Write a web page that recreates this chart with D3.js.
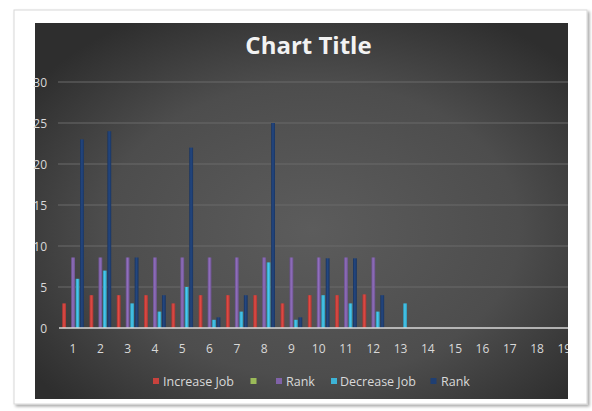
<!DOCTYPE html>
<html>
<head>
<meta charset="utf-8">
<script src="https://cdn.jsdelivr.net/npm/d3@7"></script>
<style>
  html, body { margin: 0; padding: 0; background: #ffffff; }
  svg { display: block; }
  text { font-family: "Open Sans", "Liberation Sans", sans-serif; }
</style>
</head>
<body>
<div id="chart"></div>
<script>
// ---- data ----
const categories = ["1","2","3","4","5","6","7","8","9","10","11","12","13","14","15","16","17","18","19"];
const seriesNames = ["Increase Job", "", "Rank", "Decrease Job", "Rank"];
const increaseJob = [3, 4, 4, 4, 3, 4, 4, 4, 3, 4, 4, 4.1, null, null, null, null, null, null, null];
const blankSeries = [null, null, null, null, null, null, null, null, null, null, null, null, null, null, null, null, null, null, null];
const rank1 = [8.6, 8.6, 8.6, 8.6, 8.6, 8.6, 8.6, 8.6, 8.6, 8.6, 8.6, 8.6, null, null, null, null, null, null, null];
const decreaseJob = [6, 7, 3, 2, 5, 1, 2, 8, 1, 4, 3, 2, 3, null, null, null, null, null, null];
const rank2 = [23, 24, 8.6, 4, 22, 1.3, 4, 25, 1.3, 8.5, 8.5, 4, null, null, null, null, null, null, null];
const yTicks = [0, 5, 10, 15, 20, 25, 30];
const seriesValues = [increaseJob, blankSeries, rank1, decreaseJob, rank2];
const seriesColors = ["#c8423d", "#9bbb59", "#8062a8", "#3db3d6", "#1f3f73"];

const W = 592, H = 411;
const svg = d3.select("#chart").append("svg").attr("width", W).attr("height", H);
const defs = svg.append("defs");

// frame card
const shadow = defs.append("filter").attr("id", "shadow").attr("x", "-5%").attr("y", "-5%").attr("width", "110%").attr("height", "110%");
shadow.append("feDropShadow").attr("dx", 2).attr("dy", 2).attr("stdDeviation", 1.5).attr("flood-color", "#000").attr("flood-opacity", 0.35);
svg.append("rect").attr("x", 14).attr("y", 10).attr("width", 573).attr("height", 394)
  .attr("fill", "#ffffff").attr("stroke", "#d8d8d8").attr("stroke-width", 1).attr("filter", "url(#shadow)");

// dark chart area
const bg = defs.append("radialGradient").attr("id", "bgGrad").attr("cx", "52%").attr("cy", "55%").attr("r", "65%");
bg.append("stop").attr("offset", "0%").attr("stop-color", "#5c5c5c");
bg.append("stop").attr("offset", "60%").attr("stop-color", "#4d4d4d");
bg.append("stop").attr("offset", "100%").attr("stop-color", "#2e2e2e");
const area = { x: 35, y: 23, w: 533, h: 376 };
svg.append("rect").attr("x", area.x).attr("y", area.y).attr("width", area.w).attr("height", area.h).attr("fill", "url(#bgGrad)");

defs.append("clipPath").attr("id", "areaClip").append("rect")
  .attr("x", area.x).attr("y", area.y).attr("width", area.w).attr("height", area.h);

// title
svg.append("text").attr("x", 308.5).attr("y", 53.5).attr("text-anchor", "middle")
  .attr("fill", "#f2f2f2").attr("font-size", 24).attr("font-weight", "bold")
  .attr("font-family", "Lato, 'Open Sans', sans-serif")
  .text("Chart Title");

// scales
const x0 = d3.scaleBand().domain(categories).range([59.4, 578]).paddingInner(0.18).paddingOuter(0.09);
const x1 = d3.scaleBand().domain(d3.range(seriesNames.length)).range([0, x0.bandwidth()]).padding(0);
const y = d3.scaleLinear().domain([0, 30]).range([328, 82]);

const plot = svg.append("g").attr("clip-path", "url(#areaClip)");

// gridlines
plot.append("g").selectAll("line").data(yTicks.filter(d => d > 0)).join("line")
  .attr("x1", 58).attr("x2", 578)
  .attr("y1", d => y(d)).attr("y2", d => y(d))
  .attr("stroke", "#6a6a6a").attr("stroke-width", 1);

// y labels
svg.append("g").selectAll("text").data(yTicks).join("text")
  .attr("x", 47).attr("y", d => y(d) + 4.5).attr("text-anchor", "end")
  .attr("fill", "#d9d9d9").attr("font-size", 12)
  .text(d => d);

// bar gradients
seriesColors.forEach((c, i) => {
  const g = defs.append("linearGradient").attr("id", "bar" + i).attr("x1", "0%").attr("x2", "100%");
  const col = d3.color(c);
  g.append("stop").attr("offset", "0%").attr("stop-color", col.darker(0.6));
  g.append("stop").attr("offset", "45%").attr("stop-color", col.brighter(0.35));
  g.append("stop").attr("offset", "100%").attr("stop-color", col.darker(0.5));
});

// bars
const barData = [];
seriesValues.forEach((vals, si) => {
  vals.forEach((v, ci) => {
    if (v != null) barData.push({ cat: categories[ci], s: si, v: v });
  });
});
plot.append("g").selectAll("rect").data(barData).join("rect")
  .attr("x", d => x0(d.cat) + x1(d.s) + 0.3)
  .attr("width", x1.bandwidth() - 0.6)
  .attr("y", d => y(d.v))
  .attr("height", d => y(0) - y(d.v))
  .attr("fill", d => `url(#bar${d.s})`);

// x axis line
plot.append("line").attr("x1", 59).attr("x2", 578).attr("y1", y(0)).attr("y2", y(0))
  .attr("stroke", "#d9d9d9").attr("stroke-width", 1.5);

// x labels
plot.append("g").selectAll("text").data(categories).join("text")
  .attr("x", d => x0(d) + x0.bandwidth() / 2).attr("y", 353)
  .attr("text-anchor", "middle").attr("fill", "#d9d9d9").attr("font-size", 12)
  .text(d => d);

// legend
const legendItems = [
  { name: seriesNames[0], color: seriesColors[0], mx: 156, tx: 163 },
  { name: seriesNames[1], color: seriesColors[1], mx: 253.5, tx: 261 },
  { name: seriesNames[2], color: seriesColors[2], mx: 279, tx: 286 },
  { name: seriesNames[3], color: seriesColors[3], mx: 334, tx: 340 },
  { name: seriesNames[4], color: seriesColors[4], mx: 433.5, tx: 441 }
];
const lg = svg.append("g");
lg.selectAll("rect").data(legendItems).join("rect")
  .attr("x", d => d.mx - 3).attr("y", 378).attr("width", 6).attr("height", 6)
  .attr("fill", d => d.color);
lg.selectAll("text").data(legendItems).join("text")
  .attr("x", d => d.tx).attr("y", 385.5).attr("fill", "#d9d9d9").attr("font-size", 12.5)
  .text(d => d.name);
</script>
</body>
</html>
